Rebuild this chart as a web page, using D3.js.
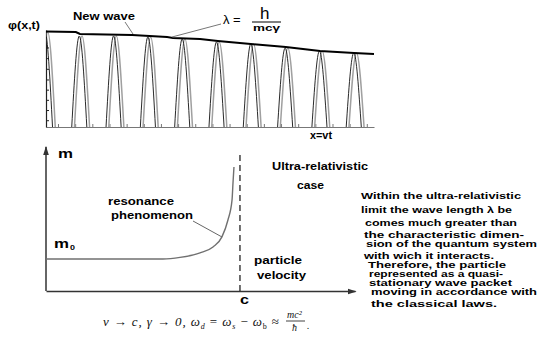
<!DOCTYPE html>
<html>
<head>
<meta charset="utf-8">
<script src="https://cdn.jsdelivr.net/npm/d3@7"></script>
<style>
  body { margin: 0; background: #fff; }
  svg { display: block; }
  .lbl { font-family: "Liberation Sans", Arial, sans-serif; font-weight: bold; fill: #000; }
  .math { font-family: "Liberation Serif", "DejaVu Serif", serif; font-style: italic; fill: #111; }
</style>
</head>
<body>
<svg id="chart"></svg>
<script>
// top panel: wave humps (peak position, peak height) and the "new wave" envelope
var peakX = [0, 1, 2, 3, 4, 5, 6, 7, 8, 9];
var peakY = [0.979, 0.938, 0.938, 0.928, 0.907, 0.876, 0.856, 0.814, 0.784, 0.763];
var envX = [0, 0.87, 0.99, 2.51, 3.53, 3.7, 4.49, 5.01, 5.97, 6.99, 7.99, 8.98, 9.56];
var envY = [0.985, 0.979, 0.959, 0.948, 0.928, 0.918, 0.907, 0.887, 0.856, 0.825, 0.784, 0.763, 0.753];
var humpHalfWidth = 0.22;

// bottom panel: mass against particle velocity (c = 1)
var massV = [0, 0.603, 0.691, 0.794, 0.861, 0.907, 0.938, 0.959, 0.964, 0.969];
var massM = [1, 1, 1.05, 1.19, 1.375, 1.69, 2.22, 2.84, 3.375, 3.875];
var lightSpeed = 1;

// right hand note, one entry per printed line
var noteLines = [
  "Within the ultra-relativistic",
  "limit the wave length \u03bb be",
  "comes much greater than",
  "the characteristic dimen-",
  "sion of the quantum system",
  "with wich it interacts.",
  "Therefore, the particle",
  "represented as a quasi-",
  "stationary wave packet",
  "moving in accordance with",
  "the classical laws."
];
// layout of the note lines: x, baseline, width
var noteX = [361, 361, 365, 364, 366, 364, 368, 369, 369, 371, 371];
var noteY = [199, 213, 226, 238, 247, 259, 268, 277, 286, 295, 307];
var noteW = [160, 151, 152, 160, 171, 130, 138, 134, 143, 166, 126];

var W = 540, H = 337;
var svg = d3.select("#chart").attr("width", W).attr("height", H);

var defs = svg.append("defs");
defs.append("clipPath").attr("id", "clip-top")
  .append("rect").attr("x", 46).attr("y", 0).attr("width", 340).attr("height", 128);
defs.append("marker").attr("id", "arrow")
  .attr("viewBox", "0 0 8 8").attr("refX", 7).attr("refY", 4)
  .attr("markerWidth", 6).attr("markerHeight", 6).attr("orient", "auto")
  .append("path").attr("d", "M0,1.5 L8,4 L0,6.5 Z").attr("fill", "#333");

function stretchText(sel, txt, x, y, size, width) {
  return sel.append("text").attr("class", "lbl")
    .attr("x", x).attr("y", y)
    .style("font-size", size + "px")
    .attr("textLength", width).attr("lengthAdjust", "spacingAndGlyphs")
    .text(txt);
}

// ---------- top panel ----------
var xTop = d3.scaleLinear().domain([0, 9.56]).range([46, 374]);
var yTop = d3.scaleLinear().domain([0, 1]).range([127, 30]);

var topG = svg.append("g");

topG.append("g").attr("transform", "translate(0,127)")
  .call(d3.axisBottom(xTop).tickValues(d3.range(0.35, 9.5, 0.5)).tickSizeInner(-3).tickSizeOuter(0).tickFormat(""))
  .call(function(g) {
    g.select(".domain").attr("stroke", "#777").attr("stroke-width", 1.2);
    g.selectAll(".tick line").attr("stroke", "#777");
  });

topG.append("g").attr("transform", "translate(46,0)")
  .call(d3.axisLeft(yTop).tickValues([0.07, 0.175, 0.28, 0.385, 0.49, 0.6, 0.71, 0.82]).tickSizeInner(-3).tickSizeOuter(0).tickFormat(""))
  .call(function(g) {
    g.select(".domain").attr("stroke", "#222").attr("stroke-width", 1.2);
    g.selectAll(".tick line").attr("stroke", "#222");
  });

var humps = peakX.map(function(c, i) { return { c: c, h: peakY[i] }; });
var humpLine = d3.line()
  .x(function(d) { return xTop(d[0]); })
  .y(function(d) { return yTop(d[1]); })
  .curve(d3.curveNatural);

var humpG = topG.append("g").attr("clip-path", "url(#clip-top)");
humpG.selectAll("path.gray").data(humps).join("path")
  .attr("class", "gray")
  .attr("d", function(d) {
    var c = d.c + 0.05;
    return humpLine([[c - humpHalfWidth, 0], [c, d.h], [c + humpHalfWidth, 0]]);
  })
  .attr("fill", "none").attr("stroke", "#a0a0a0").attr("stroke-width", 1.5);
humpG.selectAll("path.black").data(humps).join("path")
  .attr("class", "black")
  .attr("d", function(d) {
    var c = d.c - 0.03;
    return humpLine([[c - humpHalfWidth, 0], [c, d.h], [c + humpHalfWidth, 0]]);
  })
  .attr("fill", "none").attr("stroke", "#111").attr("stroke-width", 0.9);

var envLine = d3.line()
  .x(function(d, i) { return xTop(envX[i]); })
  .y(function(d) { return yTop(d); });
topG.append("path").datum(envY)
  .attr("d", envLine)
  .attr("fill", "none").attr("stroke", "#000").attr("stroke-width", 2);

// labels of the top panel
stretchText(topG, "\u03c6(x,t)", 8, 29, 11, 32);
stretchText(topG, "New wave", 73, 20, 11, 62);
topG.append("line").attr("x1", 125).attr("y1", 22).attr("x2", 133).attr("y2", 34)
  .attr("stroke", "#777").attr("stroke-width", 1);
topG.append("line").attr("x1", 172).attr("y1", 37).attr("x2", 221).attr("y2", 24)
  .attr("stroke", "#777").attr("stroke-width", 1);
topG.append("text").attr("class", "lbl").attr("x", 223).attr("y", 24)
  .style("font-size", "13px").style("font-weight", "normal").text("\u03bb =");
topG.append("text").attr("class", "lbl").attr("x", 260).attr("y", 19)
  .style("font-size", "17px").style("font-weight", "normal").text("h");
topG.append("line").attr("x1", 252).attr("y1", 22).attr("x2", 281).attr("y2", 22)
  .attr("stroke", "#000").attr("stroke-width", 1);
stretchText(topG, "mc\u03b3", 253, 31, 9, 27);
stretchText(topG, "x=vt", 310, 139, 10, 22);

// ---------- bottom panel ----------
var xBot = d3.scaleLinear().domain([0, 1.593]).range([46, 355]);
var yBot = d3.scaleLinear().domain([0, 4.5]).range([291, 147]);

var botG = svg.append("g");

botG.append("g").attr("transform", "translate(0,291)")
  .call(d3.axisBottom(xBot).tickValues([]).tickSizeOuter(0))
  .call(function(g) {
    g.select(".domain").attr("stroke", "#333").attr("stroke-width", 1.5).attr("marker-end", "url(#arrow)");
  });
botG.append("g").attr("transform", "translate(46,0)")
  .call(d3.axisLeft(yBot).tickValues([]).tickSizeOuter(0))
  .call(function(g) {
    g.select(".domain").attr("stroke", "#333").attr("stroke-width", 1.5)
      .attr("d", "M0," + yBot(0) + "V" + yBot(4.5))
      .attr("marker-end", "url(#arrow)");
  });

botG.append("line")
  .attr("x1", xBot(lightSpeed)).attr("x2", xBot(lightSpeed))
  .attr("y1", yBot(0)).attr("y2", yBot(4.25))
  .attr("stroke", "#111").attr("stroke-width", 1.2).attr("stroke-dasharray", "6,4");

var massLine = d3.line()
  .x(function(d, i) { return xBot(massV[i]); })
  .y(function(d) { return yBot(d); })
  .curve(d3.curveMonotoneX);
botG.append("path").datum(massM)
  .attr("d", massLine)
  .attr("fill", "none").attr("stroke", "#707070").attr("stroke-width", 1.4);

botG.append("line").attr("x1", 193).attr("y1", 221).attr("x2", 222).attr("y2", 237)
  .attr("stroke", "#666").attr("stroke-width", 1);

stretchText(botG, "m", 58, 158, 13, 15);
stretchText(botG, "m", 54, 248, 13, 15);
stretchText(botG, "0", 70, 250, 7, 5);
stretchText(botG, "c", 240, 304, 13, 9);
stretchText(botG, "resonance", 108, 205, 10, 66);
stretchText(botG, "phenomenon", 111, 219, 10, 82);
stretchText(botG, "Ultra-relativistic", 272, 170, 10, 96);
stretchText(botG, "case", 297, 189, 10, 27);
stretchText(botG, "particle", 254, 264, 10, 48);
stretchText(botG, "velocity", 257, 279, 10, 49);

noteLines.forEach(function(t, i) {
  stretchText(svg, t, noteX[i], noteY[i], 9, noteW[i]);
});

// formula under the chart
var f = svg.append("text").attr("class", "math").attr("x", 103).attr("y", 326)
  .style("font-size", "13px")
  .attr("textLength", 176).attr("lengthAdjust", "spacing");
f.append("tspan").text("v \u2192 c, \u03b3 \u2192 0, \u03c9");
f.append("tspan").attr("dy", 3).style("font-size", "8px").text("d");
f.append("tspan").attr("dy", -3).style("font-style", "normal").text(" = ");
f.append("tspan").text("\u03c9");
f.append("tspan").attr("dy", 3).style("font-size", "8px").text("s");
f.append("tspan").attr("dy", -3).style("font-style", "normal").text(" \u2212 ");
f.append("tspan").text("\u03c9");
f.append("tspan").attr("dy", 3).style("font-size", "8px").style("font-style", "normal").text("b");
f.append("tspan").attr("dy", -3).style("font-style", "normal").text(" \u2248");
svg.append("text").attr("class", "math").attr("x", 287).attr("y", 318).style("font-size", "10px").text("mc\u00b2");
svg.append("line").attr("x1", 286).attr("x2", 305).attr("y1", 321).attr("y2", 321).attr("stroke", "#111").attr("stroke-width", 0.8);
svg.append("text").attr("class", "math").attr("x", 292).attr("y", 331).style("font-size", "10px").text("\u0127");
svg.append("text").attr("class", "math").attr("x", 307).attr("y", 329).style("font-size", "10px").text(".");
</script>
</body>
</html>
